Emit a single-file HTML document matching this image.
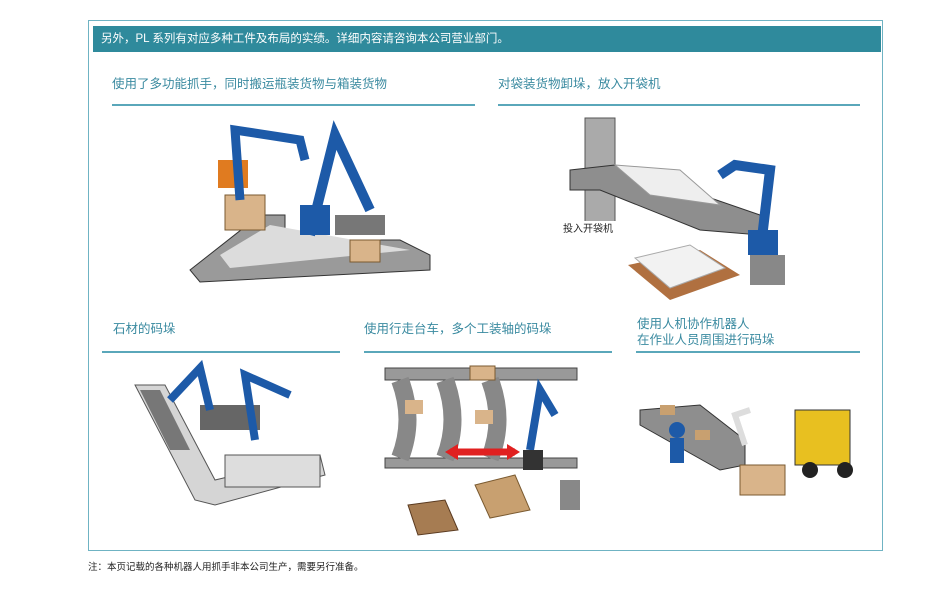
<!DOCTYPE html>
<html><head><meta charset="utf-8"><style>
body{margin:0;width:949px;height:591px;background:#fff;position:relative;font-family:"Liberation Sans","Noto Sans CJK SC",sans-serif;overflow:hidden}
.box{position:absolute;left:88px;top:20px;width:795px;height:531px;border:1.5px solid #6fb3c3;box-sizing:border-box}
.hdr{position:absolute;left:93px;top:26px;width:788px;height:26px;background:#2f8a9c;color:#fff;font-size:11.5px;line-height:26px;padding-left:8px;box-sizing:border-box}
.t{position:absolute;color:#3a8aa0;font-size:12.5px;line-height:16px}
.l{position:absolute;height:1.5px;background:#5aa7ba}
.note{position:absolute;left:88px;top:559px;font-size:9.5px;color:#222}
svg{position:absolute;left:0;top:0}
</style></head><body>
<div class="box"></div>
<div class="hdr">另外，PL 系列有对应多种工件及布局的实绩。详细内容请咨询本公司营业部门。</div>
<div class="t" style="left:112px;top:76px">使用了多功能抓手，同时搬运瓶装货物与箱装货物</div>
<div class="l" style="left:112px;top:104px;width:363px"></div>
<div class="t" style="left:498px;top:76px">对袋装货物卸垛，放入开袋机</div>
<div class="l" style="left:498px;top:104px;width:362px"></div>
<div class="t" style="left:113px;top:321px">石材的码垛</div>
<div class="l" style="left:102px;top:351px;width:238px"></div>
<div class="t" style="left:364px;top:321px">使用行走台车，多个工装轴的码垛</div>
<div class="l" style="left:364px;top:351px;width:248px"></div>
<div class="t" style="left:637px;top:316px">使用人机协作机器人<br>在作业人员周围进行码垛</div>
<div class="l" style="left:636px;top:351px;width:224px"></div>
<div class="note">注：本页记载的各种机器人用抓手非本公司生产，需要另行准备。</div>
<svg width="949" height="591">
<polygon points="190,270 260,215 285,215 285,240 400,240 430,255 430,270 200,282" fill="#9a9a9a" stroke="#333"/>
<polygon points="220,255 270,225 410,250 230,268" fill="#dcdcdc"/>
<rect x="225" y="195" width="40" height="35" fill="#d9b48a" stroke="#7a5a30"/>
<rect x="218" y="160" width="30" height="28" fill="#e07b20"/>
<path d="M240 200 L235 130 L300 140 L305 160" stroke="#1d5aa8" stroke-width="9" fill="none"/>
<path d="M310 235 L335 135 L370 210" stroke="#1d5aa8" stroke-width="10" fill="none"/>
<rect x="300" y="205" width="30" height="30" fill="#1d5aa8"/>
<rect x="335" y="215" width="50" height="20" fill="#777"/>
<rect x="350" y="240" width="30" height="22" fill="#d9b48a" stroke="#7a5a30"/>
<rect x="585" y="118" width="30" height="110" fill="#aaa" stroke="#555"/>
<polygon points="570,170 615,165 760,215 760,235 700,230 600,190 570,190" fill="#8e8e8e" stroke="#333"/>
<polygon points="615,165 680,170 720,205 650,195" fill="#eee" stroke="#999"/>
<path d="M760 255 L770 170 L735 165 L720 175" stroke="#1d5aa8" stroke-width="10" fill="none"/>
<rect x="748" y="230" width="30" height="25" fill="#1d5aa8"/>
<rect x="750" y="255" width="35" height="30" fill="#888"/>
<polygon points="628,265 700,250 740,275 670,300" fill="#b07040"/>
<polygon points="635,258 690,245 725,268 670,288" fill="#f2f2f2" stroke="#aaa"/>
<rect x="560" y="221" width="56" height="14" fill="#fff"/>
<text x="563" y="232" font-size="10" fill="#222" font-family="Liberation Sans,Noto Sans CJK SC,sans-serif">投入开袋机</text>
<polygon points="135,385 165,385 215,480 320,455 325,475 215,505 195,500" fill="#d5d5d5" stroke="#555"/>
<polygon points="140,390 160,390 190,450 170,450" fill="#777"/>
<rect x="225" y="455" width="95" height="32" fill="#ddd" stroke="#555"/>
<rect x="200" y="405" width="60" height="25" fill="#666"/>
<path d="M170 400 L200 368 L210 410" stroke="#1d5aa8" stroke-width="8" fill="none"/>
<path d="M255 440 L245 375 L290 395" stroke="#1d5aa8" stroke-width="8" fill="none"/>
<rect x="385" y="368" width="192" height="12" fill="#999" stroke="#444"/>
<rect x="385" y="458" width="192" height="10" fill="#999" stroke="#444"/>
<path d="M400 380 Q415 420 400 458 M445 380 Q460 420 445 458 M490 380 Q505 420 490 458" stroke="#888" stroke-width="18" fill="none"/>
<rect x="470" y="366" width="25" height="14" fill="#d9b48a" stroke="#7a5a30"/>
<rect x="405" y="400" width="18" height="14" fill="#d9b48a"/>
<rect x="475" y="410" width="18" height="14" fill="#d9b48a"/>
<path d="M450 452 L515 452" stroke="#e02020" stroke-width="7"/>
<polygon points="445,452 458,444 458,460" fill="#e02020"/><polygon points="520,452 507,444 507,460" fill="#e02020"/>
<path d="M530 450 L540 390 L555 415" stroke="#1d5aa8" stroke-width="8" fill="none"/>
<rect x="523" y="450" width="20" height="20" fill="#333"/>
<polygon points="475,485 515,475 530,510 490,518" fill="#c8a070" stroke="#7a5a30"/>
<polygon points="408,505 445,500 458,530 418,535" fill="#a67c52" stroke="#5a3a20"/>
<rect x="560" y="480" width="20" height="30" fill="#888"/>
<polygon points="640,410 700,405 745,440 745,465 720,470 640,425" fill="#8e8e8e" stroke="#333"/>
<rect x="660" y="405" width="15" height="10" fill="#c8a070"/><rect x="695" y="430" width="15" height="10" fill="#c8a070"/>
<rect x="740" y="465" width="45" height="30" fill="#d9b48a" stroke="#7a5a30"/>
<path d="M745 445 L735 415 L750 410" stroke="#ddd" stroke-width="6" fill="none"/>
<circle cx="677" cy="430" r="8" fill="#1d5aa8"/><rect x="670" y="438" width="14" height="25" fill="#1d5aa8"/>
<rect x="795" y="410" width="55" height="55" fill="#e8c020" stroke="#333"/>
<circle cx="810" cy="470" r="8" fill="#222"/><circle cx="845" cy="470" r="8" fill="#222"/>
</svg>
</body></html>
